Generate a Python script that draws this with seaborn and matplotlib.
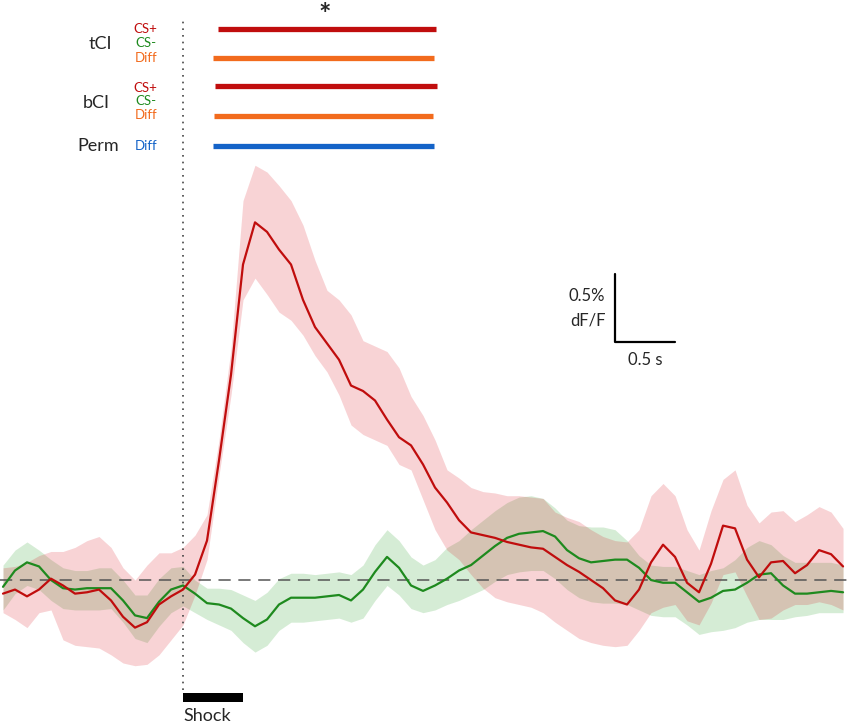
import numpy as np
import pandas as pd
import matplotlib
matplotlib.use('Agg')
import matplotlib.pyplot as plt
import seaborn as sns

sns.set_theme(style='white')
plt.rcParams['font.family'] = ['Lato', 'DejaVu Sans']

# time relative to shock onset (s), sampled every 0.1 s
time_s = np.round(np.arange(-1.5, 5.51, 0.1), 2)

# CS+ trace (% dF/F), mean and band
csp_mean = [-0.10, -0.07, -0.12, -0.07, 0.01, -0.04, -0.10, -0.09, -0.07, -0.15,
            -0.27, -0.35, -0.31, -0.18, -0.12, -0.07, 0.04, 0.29, 0.88, 1.51,
            2.32, 2.63, 2.56, 2.43, 2.32, 2.06, 1.86, 1.74, 1.62, 1.43,
            1.39, 1.32, 1.18, 1.05, 0.99, 0.85, 0.68, 0.57, 0.44, 0.35,
            0.33, 0.31, 0.28, 0.26, 0.24, 0.23, 0.17, 0.11, 0.06, 0.00,
            -0.06, -0.15, -0.18, -0.07, 0.13, 0.26, 0.17, -0.02, -0.09, 0.12,
            0.40, 0.38, 0.15, 0.02, 0.13, 0.14, 0.05, 0.11, 0.22, 0.19, 0.10]
csp_hi = [0.09, 0.10, 0.13, 0.18, 0.21, 0.21, 0.24, 0.29, 0.32, 0.24,
          0.09, 0.00, 0.11, 0.20, 0.20, 0.24, 0.33, 0.48, 1.03, 1.70,
          2.79, 3.05, 3.00, 2.90, 2.79, 2.61, 2.35, 2.13, 2.06, 1.95,
          1.76, 1.72, 1.68, 1.56, 1.35, 1.21, 1.03, 0.81, 0.75, 0.68,
          0.65, 0.64, 0.62, 0.62, 0.61, 0.60, 0.50, 0.46, 0.43, 0.37,
          0.32, 0.29, 0.28, 0.37, 0.62, 0.71, 0.62, 0.37, 0.22, 0.51,
          0.74, 0.81, 0.55, 0.42, 0.50, 0.51, 0.43, 0.48, 0.54, 0.50, 0.38]
csp_lo = [-0.24, -0.29, -0.35, -0.24, -0.22, -0.44, -0.48, -0.49, -0.50, -0.55,
          -0.61, -0.63, -0.62, -0.55, -0.44, -0.33, -0.11, 0.15, 0.77, 1.36,
          2.06, 2.22, 2.10, 1.97, 1.91, 1.80, 1.65, 1.53, 1.36, 1.14,
          1.07, 1.03, 0.99, 0.85, 0.81, 0.59, 0.37, 0.22, 0.15, 0.04,
          -0.06, -0.13, -0.16, -0.18, -0.20, -0.24, -0.31, -0.37, -0.43, -0.46,
          -0.48, -0.49, -0.48, -0.37, -0.24, -0.20, -0.18, -0.30, -0.33, -0.17,
          0.04, 0.06, -0.12, -0.29, -0.28, -0.22, -0.18, -0.18, -0.16, -0.18, -0.22]

# CS- trace (% dF/F), mean and band
csm_mean = [-0.05, 0.07, 0.13, 0.10, 0.00, -0.06, -0.07, -0.06, -0.06, -0.06,
            -0.15, -0.26, -0.28, -0.16, -0.07, -0.04, -0.10, -0.17, -0.18, -0.21,
            -0.28, -0.34, -0.29, -0.18, -0.13, -0.13, -0.13, -0.12, -0.11, -0.15,
            -0.07, 0.06, 0.17, 0.09, -0.04, -0.08, -0.04, 0.01, 0.07, 0.11,
            0.18, 0.25, 0.31, 0.34, 0.35, 0.36, 0.32, 0.22, 0.16, 0.13,
            0.14, 0.15, 0.15, 0.09, 0.00, -0.02, -0.02, -0.09, -0.16, -0.13,
            -0.08, -0.07, -0.02, 0.04, 0.05, -0.04, -0.10, -0.10, -0.09, -0.08, -0.09]
csm_hi = [0.11, 0.22, 0.28, 0.22, 0.15, 0.09, 0.07, 0.07, 0.09, 0.09,
          0.00, -0.11, -0.11, 0.01, 0.09, 0.10, 0.00, -0.06, -0.06, -0.07,
          -0.11, -0.15, -0.09, 0.01, 0.05, 0.05, 0.04, 0.05, 0.06, 0.04,
          0.11, 0.26, 0.37, 0.29, 0.17, 0.11, 0.15, 0.24, 0.29, 0.37,
          0.44, 0.51, 0.57, 0.61, 0.62, 0.60, 0.53, 0.44, 0.40, 0.39,
          0.39, 0.37, 0.29, 0.18, 0.11, 0.10, 0.10, 0.07, 0.04, 0.07,
          0.09, 0.15, 0.24, 0.29, 0.26, 0.18, 0.13, 0.13, 0.13, 0.13, 0.11]
csm_lo = [-0.22, -0.10, -0.04, -0.07, -0.15, -0.21, -0.22, -0.22, -0.22, -0.21,
          -0.31, -0.43, -0.46, -0.34, -0.24, -0.19, -0.24, -0.29, -0.33, -0.37,
          -0.46, -0.53, -0.48, -0.37, -0.31, -0.31, -0.30, -0.29, -0.28, -0.31,
          -0.28, -0.15, -0.04, -0.11, -0.21, -0.24, -0.22, -0.18, -0.15, -0.11,
          -0.07, -0.01, 0.04, 0.06, 0.07, 0.07, 0.01, -0.07, -0.13, -0.16,
          -0.17, -0.17, -0.18, -0.22, -0.26, -0.27, -0.27, -0.33, -0.40, -0.38,
          -0.37, -0.35, -0.31, -0.29, -0.29, -0.29, -0.27, -0.26, -0.24, -0.24, -0.24]

# significant windows (s): tCI CS+, tCI Diff, bCI CS+, bCI Diff, Perm Diff
sig_names = ['tCI CS+', 'tCI Diff', 'bCI CS+', 'bCI Diff', 'Perm Diff']
sig_start = [0.29, 0.25, 0.27, 0.26, 0.25]
sig_end = [2.11, 2.09, 2.12, 2.08, 2.09]

shock_dur = 0.5

red = '#c00d0d'
green = '#1e8a1e'
orange = '#f26b1d'
blue = '#1463c8'

df = pd.DataFrame({'t': np.concatenate([time_s, time_s]),
                   'v': np.concatenate([csp_mean, csm_mean]),
                   'cond': ['CS+'] * len(time_s) + ['CS-'] * len(time_s)})

fig = plt.figure(figsize=(8.5, 7.28), dpi=100)
ax = fig.add_axes([0, 0, 1, 1])

ax.fill_between(time_s, csm_lo, csm_hi, color=(0.1, 0.6, 0.1), alpha=0.18, lw=0)
ax.fill_between(time_s, csp_lo, csp_hi, color=(0.85, 0.05, 0.1), alpha=0.18, lw=0)
ax.axhline(0, color='#555555', lw=1.1, dashes=(8, 5), zorder=1)
sns.lineplot(data=df, x='t', y='v', hue='cond', hue_order=['CS-', 'CS+'],
             palette={'CS+': red, 'CS-': green}, lw=1.6, legend=False, ax=ax, zorder=3)
for l in ax.lines:
    l.set_solid_joinstyle('round')

# onset line
ax.plot([0, 0], [-0.81, 4.12], color='#444444', lw=1.2, ls=(0, (1, 3)), zorder=2)

# shock bar
ax.add_patch(plt.Rectangle((0, -0.90), shock_dur, 0.07, color='black', lw=0))
ax.text(0, -0.94, 'Shock', fontsize=13, ha='left', va='top')

# significance bars
sig_y = [4.05, 3.84, 3.63, 3.41, 3.19]
sig_col = [red, orange, red, orange, blue]
for s, e, y, c in zip(sig_start, sig_end, sig_y, sig_col):
    ax.plot([s, e], [y, y], color=c, lw=3.8, solid_capstyle='butt')
ax.text(1.18, 4.25, '*', fontsize=21, ha='center', va='top', fontweight='bold')

# labels on the left
ax.text(-0.69, 3.94, 'tCI', fontsize=13, ha='center', va='center')
ax.text(-0.72, 3.51, 'bCI', fontsize=13, ha='center', va='center')
ax.text(-0.71, 3.19, 'Perm', fontsize=13, ha='center', va='center')
small = [('CS+', red, 4.05), ('CS-', green, 3.95), ('Diff', orange, 3.84),
         ('CS+', red, 3.62), ('CS-', green, 3.52), ('Diff', orange, 3.42),
         ('Diff', blue, 3.19)]
for txt, c, y in small:
    ax.text(-0.31, y, txt, fontsize=9.5, color=c, ha='center', va='center')

# scale bar
ax.plot([3.6, 3.6, 4.1], [2.25, 1.75, 1.75], color='black', lw=1.6)
ax.text(3.52, 2.09, '0.5%', fontsize=12, ha='right', va='center')
ax.text(3.52, 1.91, 'dF/F', fontsize=12, ha='right', va='center')
ax.text(3.85, 1.68, '0.5 s', fontsize=12, ha='center', va='top')

ax.set_xlim(-1.525, 5.558)
ax.set_ylim(-1.088, 4.265)
ax.axis('off')

fig.savefig('out.png', dpi=100)
